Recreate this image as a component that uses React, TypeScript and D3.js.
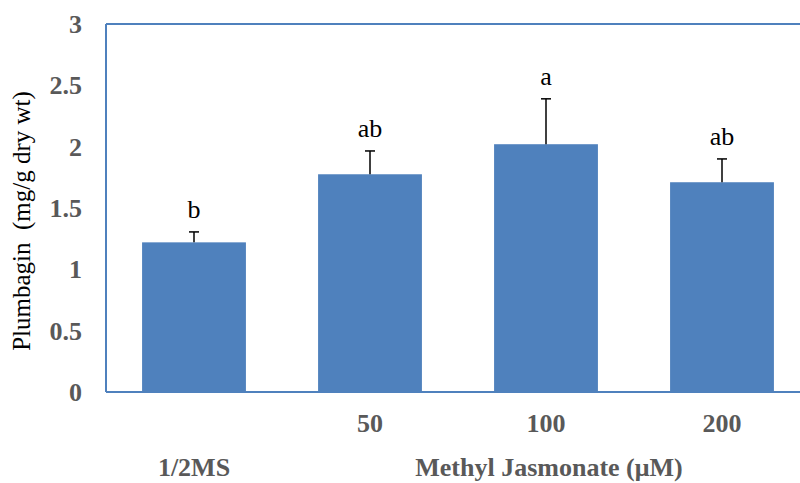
import React from "react";
import * as d3 from "d3";

const categories = ["1/2MS", "50", "100", "200"];
const values = [1.22, 1.775, 2.02, 1.71];
const errors = [0.085, 0.19, 0.37, 0.19];
const letters = ["b", "ab", "a", "ab"];
const yTicks = [0, 0.5, 1, 1.5, 2, 2.5, 3];

export default function App() {
  const W = 800, H = 483;
  const left = 106, right = 810, top = 24, bottom = 392;
  const x = d3.scaleBand<string>().domain(categories).range([left, right]).paddingInner(0.41).paddingOuter(0.205);
  const y = d3.scaleLinear().domain([0, 3]).range([bottom, top]);
  const blue = "#4F81BD";
  const gray = "#595959";
  const font = "'Liberation Serif', 'Times New Roman', serif";
  return (
    <svg width={W} height={H} style={{ position: "absolute", left: 0, top: 0 }} fontFamily={font}>
      <rect x={0} y={0} width={W} height={H} fill="#fff" />
      {categories.map((c, i) => {
        const cx = x(c)! + x.bandwidth() / 2;
        const et = y(values[i] + errors[i]);
        return (
          <g key={c}>
            <rect x={x(c)} y={y(values[i])} width={x.bandwidth()} height={bottom - y(values[i])} fill={blue} />
            <line x1={cx} x2={cx} y1={y(values[i])} y2={et} stroke="#000" strokeWidth={1.5} />
            <line x1={cx - 5} x2={cx + 5} y1={et} y2={et} stroke="#000" strokeWidth={1.5} />
            <text x={cx} y={et - 14} textAnchor="middle" fontSize={26} fill="#000">{letters[i]}</text>
          </g>
        );
      })}
      <line x1={left} x2={left} y1={top} y2={bottom} stroke={blue} strokeWidth={2} />
      <line x1={left} x2={W} y1={top} y2={top} stroke={blue} strokeWidth={2} />
      <line x1={left} x2={W} y1={bottom} y2={bottom} stroke={blue} strokeWidth={2} />
      {yTicks.map((t) => (
        <text key={t} x={82} y={y(t) + 9} textAnchor="end" fontSize={26} fontWeight="bold" fill={gray}>{t}</text>
      ))}
      {categories.slice(1).map((c) => (
        <text key={c} x={x(c)! + x.bandwidth() / 2} y={432} textAnchor="middle" fontSize={26} fontWeight="bold" fill={gray}>{c}</text>
      ))}
      <text x={x(categories[0])! + x.bandwidth() / 2} y={476} textAnchor="middle" fontSize={26} fontWeight="bold" fill={gray}>{categories[0]}</text>
      <text x={549} y={476} textAnchor="middle" fontSize={26} fontWeight="bold" fill={gray}>Methyl Jasmonate (μM)</text>
      <text transform="translate(30,221) rotate(-90)" textAnchor="middle" fontSize={25} fill="#000" style={{ whiteSpace: "pre" }}>Plumbagin  (mg/g dry wt)</text>
    </svg>
  );
}
